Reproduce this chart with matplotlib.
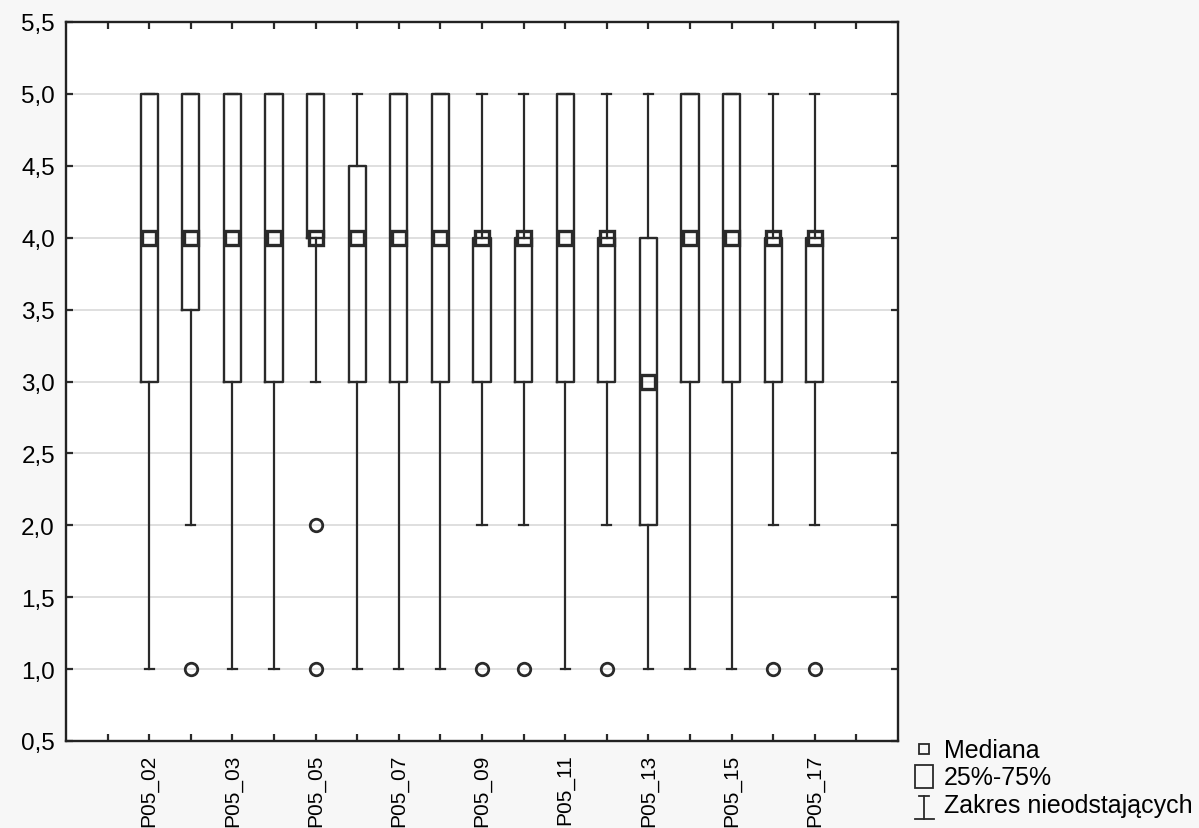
import numpy as np
import matplotlib.pyplot as plt
from matplotlib.patches import Rectangle

plt.rcParams['font.family'] = ['Liberation Sans', 'DejaVu Sans']

# variables (only every other name is printed on the axis)
names = ['P05_02', 'P05_02a', 'P05_03', 'P05_04', 'P05_05', 'P05_06', 'P05_07', 'P05_08',
         'P05_09', 'P05_10', 'P05_11', 'P05_12', 'P05_13', 'P05_14', 'P05_15', 'P05_16', 'P05_17']
q1 =     [3, 3.5, 3, 3, 4, 3, 3, 3, 3, 3, 3, 3, 2, 3, 3, 3, 3]
median = [4, 4, 4, 4, 4, 4, 4, 4, 4, 4, 4, 4, 3, 4, 4, 4, 4]
q3 =     [5, 5, 5, 5, 5, 4.5, 5, 5, 4, 4, 5, 4, 4, 5, 5, 4, 4]
whis_lo = [1, 2, 1, 1, 3, 1, 1, 1, 2, 2, 1, 2, 1, 1, 1, 2, 2]
whis_hi = [5, 5, 5, 5, 5, 5, 5, 5, 5, 5, 5, 5, 5, 5, 5, 5, 5]
outliers = [[], [1], [], [], [2, 1], [], [], [], [1], [1], [], [1], [], [], [], [1], [1]]

line_c = '#2a2a2a'

fig = plt.figure(figsize=(11.99, 8.29), dpi=100, facecolor='#f7f7f7')
ax = fig.add_axes([66/1199, (829-742)/829, (898-66)/1199, (742-23)/829])
ax.set_facecolor('white')

pos = np.arange(1, len(names) + 1)
stats = []
for i in range(len(names)):
    stats.append(dict(med=median[i], q1=q1[i], q3=q3[i], whislo=whis_lo[i],
                      whishi=whis_hi[i], fliers=outliers[i]))

ax.bxp(stats, positions=pos, widths=0.41, capwidths=0.22, showcaps=True,
       boxprops=dict(color=line_c, linewidth=1.7),
       whiskerprops=dict(color=line_c, linewidth=1.6),
       capprops=dict(color=line_c, linewidth=1.6),
       medianprops=dict(visible=False),
       flierprops=dict(marker='o', markersize=9, markerfacecolor='none',
                       markeredgecolor=line_c, markeredgewidth=2),
       zorder=3)
ax.plot(pos, median, linestyle='', marker='s', markersize=9.5, markerfacecolor='none',
        markeredgecolor=line_c, markeredgewidth=2.4, zorder=4)

ax.set_xlim(-1, 19)
ax.set_ylim(0.5, 5.5)
yt = np.arange(0.5, 5.51, 0.5)
ax.set_yticks(yt)
ax.set_yticklabels([f'{v:.1f}'.replace('.', ',') for v in yt], fontsize=17.5)
ax.set_xticks(np.arange(0, 19))
xl = [''] * 19
for i, n in enumerate(names):
    if i % 2 == 0:
        xl[i + 1] = n
ax.set_xticklabels(xl, rotation=90, fontsize=15)
ax.tick_params(direction='in', length=5, width=1.6, color=line_c,
               top=True, right=True)
ax.tick_params(axis='y', pad=8)
ax.tick_params(axis='x', pad=9)
for v in yt[1:-1]:
    ax.axhline(v, color='#d9d9d9', linewidth=1.2, zorder=1)
for s in ax.spines.values():
    s.set_linewidth(1.7)
    s.set_color('#222222')

# legend drawn in pixel coordinates
lax = fig.add_axes([0, 0, 1, 1])
lax.set_xlim(0, 1199)
lax.set_ylim(829, 0)
lax.axis('off')
lax.plot([924], [750], marker='s', markersize=6.5, markerfacecolor='none',
         markeredgecolor=line_c, markeredgewidth=1.3)
lax.add_patch(Rectangle((915, 766), 18, 23, fill=False, edgecolor=line_c, linewidth=1.3))
lax.plot([924, 924], [797, 820], color=line_c, linewidth=1.3)
lax.plot([919, 929], [797, 797], color=line_c, linewidth=1.3)
lax.plot([915, 934], [820, 820], color=line_c, linewidth=1.3)
lax.text(944, 751, 'Mediana', fontsize=18, va='center')
lax.text(944, 778, '25%-75%', fontsize=18, va='center')
lax.text(944, 806, 'Zakres nieodstających', fontsize=18, va='center')

fig.savefig('out.png', dpi=100, facecolor=fig.get_facecolor())
